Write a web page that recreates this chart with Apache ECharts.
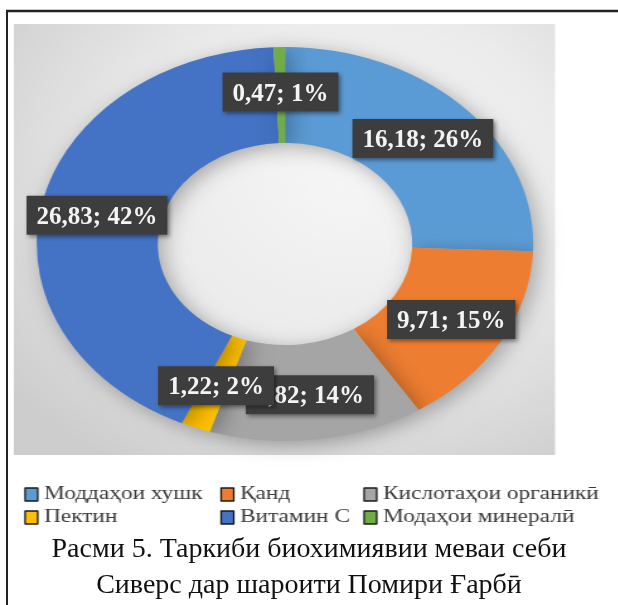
<!DOCTYPE html>
<html>
<head>
<meta charset="utf-8">
<script src="https://cdn.jsdelivr.net/npm/echarts@6/dist/echarts.min.js"></script>
<style>
  body { margin: 0; overflow: hidden; background: #fff; }
  #ring { position: absolute; left: 0; top: 0; width: 491px; height: 605px; transform: scaleX(1.26); transform-origin: 0 0; }
  #main { position: absolute; left: 0; top: 0; width: 618px; height: 605px; }
</style>
</head>
<body>
<div id="ring"></div>
<div id="main"></div>
<script>
var categories = ['Моддаҳои хушк', 'Қанд', 'Кислотаҳои органикӣ', 'Пектин', 'Витамин С', 'Модаҳои минералӣ'];
var values = [16.18, 9.71, 8.82, 1.22, 26.83, 0.47];
var colors = ['#5B9BD5', '#ED7D31', '#A5A5A5', '#FFC000', '#4472C4', '#70AD47'];
var caption = 'Расми 5. Таркиби биохимиявии меваи себи\nСиверс дар шароити Помири Ғарбӣ';

// the picture is stretched sideways, so the ring and legend are drawn in a scaled box
var stretch = 1.26;
var cx = 285, cy = 244;

function pieData(transparent) {
  return categories.map(function(name, i) {
    return { name: name, value: values[i], itemStyle: { color: transparent ? 'rgba(0,0,0,0)' : colors[i] } };
  });
}

function legendCol(idx, left) {
  return {
    orient: 'vertical',
    left: left / stretch,
    top: 480,
    itemWidth: 10,
    itemHeight: 13,
    itemGap: 4,
    itemTextGap: 4,
    icon: 'rect',
    selectedMode: false,
    itemStyle: { borderColor: '#1a1a1a', borderWidth: 1.3 },
    textStyle: { fontFamily: 'Liberation Serif', fontSize: 18.5, color: '#3a3a3a' },
    data: idx.map(function(i) { return { name: categories[i], itemStyle: { color: colors[i] } }; })
  };
}

var ring = echarts.init(document.getElementById('ring'));
ring.setOption({
  backgroundColor: '#fff',
  animation: false,
  legend: [legendCol([0, 3], 18), legendCol([1, 4], 214), legendCol([2, 5], 357)],
  graphic: [{
    type: 'rect',
    shape: { x: 11, y: 24, width: 429.5, height: 431 },
    style: {
      fill: {
        type: 'radial', x: 0.62, y: 0.35, r: 0.8,
        colorStops: [
          { offset: 0, color: '#f6f6f6' },
          { offset: 0.5, color: '#ebebeb' },
          { offset: 1, color: '#cdcdcd' }
        ]
      }
    },
    z: -10
  }],
  series: [{
    type: 'pie',
    center: [cx / stretch, cy],
    radius: [101, 197],
    startAngle: 90,
    silent: true,
    label: { show: false },
    labelLine: { show: false },
    itemStyle: { shadowBlur: 18, shadowColor: 'rgba(0,0,0,0.3)', shadowOffsetX: 4, shadowOffsetY: 4 },
    data: pieData(false)
  }]
});

var chart = echarts.init(document.getElementById('main'), null, { renderer: 'svg' });
chart.setOption({
  animation: false,
  title: {
    text: caption,
    left: 'center',
    top: 524,
    textStyle: { fontFamily: 'Liberation Serif', fontSize: 28, fontWeight: 'normal', color: '#111', lineHeight: 36 }
  },
  graphic: [
    { type: 'line', shape: { x1: 6, y1: 11, x2: 618, y2: 11 }, style: { stroke: '#222', lineWidth: 2.5 } },
    { type: 'line', shape: { x1: 7, y1: 10, x2: 7, y2: 605 }, style: { stroke: '#222', lineWidth: 2 } }
  ],
  series: [{
    type: 'pie',
    center: [cx, cy],
    radius: [101, 197],
    startAngle: 90,
    silent: true,
    labelLine: { show: false },
    label: {
      show: true,
      position: 'inside',
      formatter: function(p) {
        return p.value.toFixed(2).replace('.', ',') + '; ' + Math.round(p.percent) + '%';
      },
      fontFamily: 'Liberation Serif',
      fontWeight: 'bold',
      fontSize: 25,
      color: '#f4f4f4',
      backgroundColor: '#3c3c3c',
      padding: [7, 10],
      shadowBlur: 4,
      shadowColor: 'rgba(0,0,0,0.45)',
      shadowOffsetX: 2,
      shadowOffsetY: 2
    },
    // move each label sideways to follow the stretched ring
    labelLayout: function(p) {
      var r = p.labelRect;
      var mx = r.x + r.width / 2;
      return { x: cx + (mx - cx) * stretch, y: r.y + r.height / 2 };
    },
    data: pieData(true)
  }]
});
</script>
</body>
</html>
